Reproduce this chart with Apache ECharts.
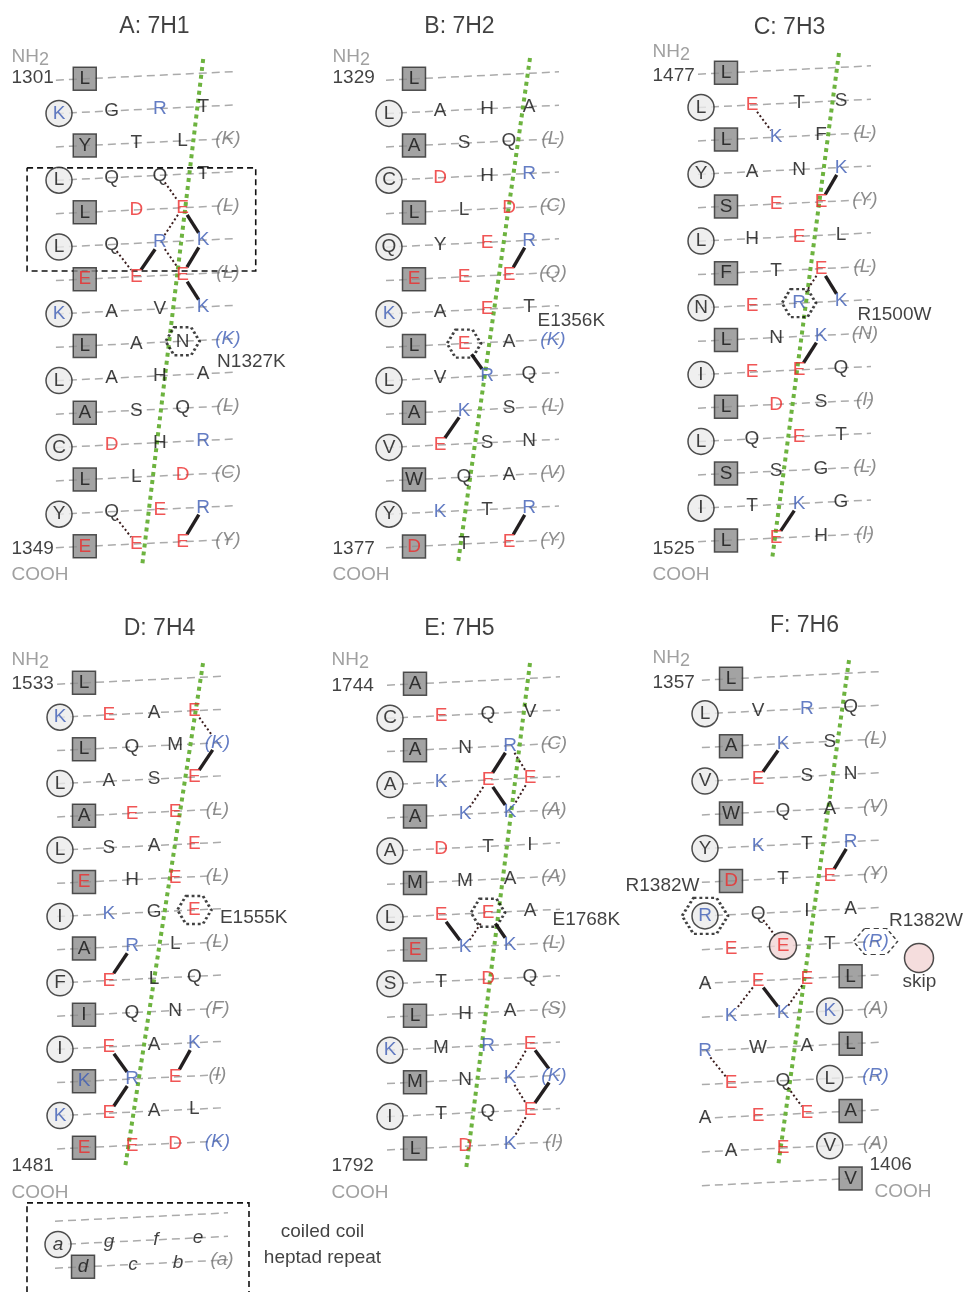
<!DOCTYPE html>
<html>
<head>
<meta charset="utf-8">
<style>
  html, body { margin: 0; padding: 0; width: 100%; height: 100%; overflow: hidden; background: #fff; }
</style>
<script src="https://cdn.jsdelivr.net/npm/echarts@6/dist/echarts.min.js"></script>
</head>
<body>
<div id="container" style="width:969px;height:1292px;"></div>
<script>
// heptad rows, 8 slots each: a d g c f b e (a)
// "oX" a-position (circle), "#X" d-position (square), "@X" skip residue,
// "(X)" repeated a residue (grey), "(X)+" repeated a residue coloured, "-" empty
const rows7H1 = [
  "- #L - - - - - -",
  "oK - G - R - T -",
  "- #Y - T - L - (K)",
  "oL - Q - Q - T -",
  "- #L - D - E - (L)",
  "oL - Q - R - K -",
  "- #E - E - E - (L)",
  "oK - A - V - K -",
  "- #L - A - N - (K)+",
  "oL - A - H - A -",
  "- #A - S - Q - (L)",
  "oC - D - H - R -",
  "- #L - L - D - (C)",
  "oY - Q - E - R -",
  "- #E - E - E - (Y)"
];
const rows7H2 = [
  "- #L - - - - - -",
  "oL - A - H - A -",
  "- #A - S - Q - (L)",
  "oC - D - H - R -",
  "- #L - L - D - (C)",
  "oQ - Y - E - R -",
  "- #E - E - E - (Q)",
  "oK - A - E - T -",
  "- #L - E - A - (K)+",
  "oL - V - R - Q -",
  "- #A - K - S - (L)",
  "oV - E - S - N -",
  "- #W - Q - A - (V)",
  "oY - K - T - R -",
  "- #D - T - E - (Y)"
];
const rows7H3 = [
  "- #L - - - - - -",
  "oL - E - T - S -",
  "- #L - K - F - (L)",
  "oY - A - N - K -",
  "- #S - E - E - (Y)",
  "oL - H - E - L -",
  "- #F - T - E - (L)",
  "oN - E - R - K -",
  "- #L - N - K - (N)",
  "oI - E - E - Q -",
  "- #L - D - S - (I)",
  "oL - Q - E - T -",
  "- #S - S - G - (L)",
  "oI - T - K - G -",
  "- #L - E - H - (I)"
];
const rows7H4 = [
  "- #L - - - - - -",
  "oK - E - A - E -",
  "- #L - Q - M - (K)+",
  "oL - A - S - E -",
  "- #A - E - E - (L)",
  "oL - S - A - E -",
  "- #E - H - E - (L)",
  "oI - K - G - E -",
  "- #A - R - L - (L)",
  "oF - E - L - Q -",
  "- #I - Q - N - (F)",
  "oI - E - A - K -",
  "- #K - R - E - (I)",
  "oK - E - A - L -",
  "- #E - E - D - (K)+"
];
const rows7H5 = [
  "- #A - - - - - -",
  "oC - E - Q - V -",
  "- #A - N - R - (C)",
  "oA - K - E - E -",
  "- #A - K - K - (A)",
  "oA - D - T - I -",
  "- #M - M - A - (A)",
  "oL - E - E - A -",
  "- #E - K - K - (L)",
  "oS - T - D - Q -",
  "- #L - H - A - (S)",
  "oK - M - R - E -",
  "- #M - N - K - (K)+",
  "oI - T - Q - E -",
  "- #L - D - K - (I)"
];
const rows7H6 = [
  "- #L - - - - - -",
  "oL - V - R - Q -",
  "- #A - K - S - (L)",
  "oV - E - S - N -",
  "- #W - Q - A - (V)",
  "oY - K - T - R -",
  "- #D - T - E - (Y)",
  "oR - Q - I - A -",
  "- E - @E - T - (R)+",
  "A - E - E - #L -",
  "- K - K - oK - (A)",
  "R - W - A - #L -",
  "- E - Q - oL - (R)+",
  "A - E - E - #A -",
  "- A - E - oV - (A)",
  "- - - - - - #V -"
];
const rowsLegend = [
  "- - - - - - - -",
  "oa - g - f - e -",
  "- #d - c - b - (a)"
];

// pairs [row1, col1, row2, col2, kind]  t = salt bridge, d = dotted contact
const bonds7H1 = [[3,4,4,5,'d'],[4,5,5,4,'d'],[4,5,5,6,'t'],[5,2,6,3,'d'],[6,3,5,4,'t'],[5,4,6,5,'d'],[5,6,6,5,'t'],[6,5,7,6,'t'],[13,2,14,3,'d'],[13,6,14,5,'t']];
const bonds7H2 = [[5,6,6,5,'t'],[8,3,9,4,'t'],[10,3,11,2,'t'],[13,6,14,5,'t']];
const bonds7H3 = [[1,2,2,3,'d'],[3,6,4,5,'t'],[6,5,7,6,'t'],[6,5,7,4,'d'],[8,5,9,4,'t'],[13,4,14,3,'t']];
const bonds7H4 = [[1,6,2,7,'d'],[2,7,3,6,'t'],[8,3,9,2,'t'],[11,2,12,3,'t'],[11,6,12,5,'t'],[12,3,13,2,'t']];
const bonds7H5 = [[2,5,3,4,'t'],[2,5,3,6,'d'],[3,4,4,3,'d'],[3,4,4,5,'t'],[3,6,4,5,'d'],[7,2,8,3,'t'],[7,4,8,3,'d'],[7,4,8,5,'t'],[11,6,12,5,'d'],[11,6,12,7,'t'],[12,5,13,6,'d'],[12,7,13,6,'t'],[13,6,14,5,'d']];
const bonds7H6 = [[2,3,3,2,'t'],[5,6,6,5,'t'],[7,2,8,3,'d'],[9,2,10,1,'d'],[9,2,10,3,'t'],[9,4,10,3,'d'],[11,0,12,1,'d'],[12,3,13,4,'d']];

// mutations [row, col, name]
const muts7H1 = [[8,5,'N1327K']];
const muts7H2 = [[8,3,'E1356K']];
const muts7H3 = [[7,4,'R1500W']];
const muts7H4 = [[7,6,'E1555K']];
const muts7H5 = [[7,4,'E1768K']];
const muts7H6 = [[7,0,'R1382W'],[8,7,'R1382W']];

// helix interface axis, [heptad x, row] at top and bottom
const axis7H1 = [[140,-0.63],[80.6,14.58]];
const axis7H2 = [[141,-0.66],[69,14.46]];
const axis7H3 = [[138,-0.63],[71,14.55]];
const axis7H4 = [[149,-0.63],[67.7,14.58]];
const axis7H5 = [[140,-0.66],[76,14.61]];
const axis7H6 = [[138.5,-0.59],[70.2,14.45]];

const titles = ['A: 7H1','B: 7H2','C: 7H3','D: 7H4','E: 7H5','F: 7H6'];
const startNums = ['1301','1329','1477','1533','1744','1357'];
const endNums = ['1349','1377','1525','1481','1792','1406'];

// ---- layout & style ----
const FONT = '"Liberation Sans", Arial, Helvetica, sans-serif';
const RED = '#ec2a2b', BLUE = '#3d5db5', GREY = '#707070', INK = '#111';
const colX = [0, 25, 51, 75, 98, 120, 140, 164];
const TILT = 0.048;
const HEX = 'path://M25,0L75,0L100,50L75,100L25,100L0,50Z';

const layout = [
  {x0:59,  y0:80,  sx:1.03, rowH:33.4, title:[96,-53],  nh2:[-47,-23], start:[-47,-2], end:[-47,469], cooh:[-47,495], mut:[[35,21]]},
  {x0:389, y0:80,  sx:1.0,  rowH:33.4, title:[71,-53],  nh2:[-56,-23], start:[-56,-2], end:[-56,469], cooh:[-56,495], mut:[[74,-22]]},
  {x0:701, y0:74,  sx:1.0,  rowH:33.4, title:[89,-46],  nh2:[-48,-22], start:[-48,2],  end:[-48,475], cooh:[-48,501], mut:[[59,12]]},
  {x0:60,  y0:684, sx:0.96, rowH:33.2, title:[100,-55], nh2:[-48,-24], start:[-48,0],  end:[-48,482], cooh:[-48,509], mut:[[26,8]]},
  {x0:390, y0:685, sx:1.0,  rowH:33.2, title:[70,-56],  nh2:[-58,-25], start:[-58,1],  end:[-58,481], cooh:[-58,508], mut:[[65,8]]},
  {x0:705, y0:680, sx:1.04, rowH:33.7, title:[100,-54], nh2:[-52,-22], start:[-52,3],  end:[165,485], cooh:[170,512], mut:[[-5,-30,'right'],[14,-20]], lastEnd:140}
];
const legendLayout = {x0:58, y0:1221, sx:1.0, rowH:23.5};

const panels = [
  {rows:rows7H1, bonds:bonds7H1, muts:muts7H1, axis:axis7H1, box:[[-31,2.63],[191,5.72]]},
  {rows:rows7H2, bonds:bonds7H2, muts:muts7H2, axis:axis7H2},
  {rows:rows7H3, bonds:bonds7H3, muts:muts7H3, axis:axis7H3},
  {rows:rows7H4, bonds:bonds7H4, muts:muts7H4, axis:axis7H4},
  {rows:rows7H5, bonds:bonds7H5, muts:muts7H5, axis:axis7H5},
  {rows:rows7H6, bonds:bonds7H6, muts:muts7H6, axis:axis7H6}
];

function parseSlot(s) {
  if (!s || s === '-') return null;
  let shape = 'text', txt = s, plus = false;
  if (s[0] === 'o') { shape = 'circle'; txt = s.slice(1); }
  else if (s[0] === '#') { shape = 'square'; txt = s.slice(1); }
  else if (s[0] === '@') { shape = 'skip'; txt = s.slice(1); }
  if (txt.endsWith('+')) { plus = true; txt = txt.slice(0, -1); }
  const paren = txt[0] === '(';
  const letter = paren ? txt[1] : txt;
  let color = INK;
  if ('DE'.includes(letter)) color = RED;
  if ('KR'.includes(letter)) color = BLUE;
  if (paren && !plus) color = GREY;
  return {shape, txt, letter, paren, color};
}

function pos(L, r, x) {
  return [x, r - TILT * x * L.sx / L.rowH];
}

const option = {
  animation: false,
  backgroundColor: '#fff',
  grid: [], xAxis: [], yAxis: [], series: []
};

// grids are kept inside the 969x1292 canvas; marks outside are not clipped
function addGrid(L, xMin, xMax, yMin, yMax) {
  option.grid.push({
    left: L.x0 + xMin * L.sx, top: L.y0 + yMin * L.rowH,
    width: (xMax - xMin) * L.sx, height: (yMax - yMin) * L.rowH
  });
  option.xAxis.push({type: 'value', min: xMin, max: xMax, show: false, gridIndex: option.grid.length - 1});
  option.yAxis.push({type: 'value', min: yMin, max: yMax, inverse: true, show: false, gridIndex: option.grid.length - 1});
  return option.grid.length - 1;
}

function textItem(L, dx, dy, text, opts) {
  return {
    value: [dx / L.sx, dy / L.rowH],
    symbolSize: 1,
    itemStyle: {color: 'rgba(0,0,0,0)'},
    label: Object.assign({
      show: true, position: [0, 0], formatter: text, color: INK, fontSize: 19,
      fontFamily: FONT, align: 'left', verticalAlign: 'middle'
    }, opts || {})
  };
}

function drawHeptads(gi, L, P, italic) {
  const rowLines = [], shapes = [], letters = [], hexes = [], thick = [], dotted = [];
  const grid = [];
  P.rows.forEach((row, r) => {
    const slots = row.trim().split(/\s+/).map(parseSlot);
    grid.push(slots);
    const end = (L.lastEnd && r === P.rows.length - 1) ? L.lastEnd : 170;
    rowLines.push({coords: [pos(L, r, -3), pos(L, r, end)]});
    slots.forEach((s, c) => {
      if (!s) return;
      const lab = {
        show: true, position: 'inside', formatter: s.txt, color: s.color,
        fontSize: 19, fontFamily: FONT, fontStyle: (italic || s.paren) ? 'italic' : 'normal'
      };
      const p = pos(L, r, colX[c]);
      if (s.shape === 'circle') {
        shapes.push({value: p, symbol: 'circle', symbolSize: 26,
          itemStyle: {color: '#ebebeb', borderColor: '#222', borderWidth: 1.5}, label: lab});
      } else if (s.shape === 'square') {
        shapes.push({value: p, symbol: 'rect', symbolSize: 23,
          itemStyle: {color: '#8c8c8c', borderColor: '#2a2a2a', borderWidth: 1.5}, label: lab});
      } else if (s.shape === 'skip') {
        shapes.push({value: p, symbol: 'circle', symbolSize: 27,
          itemStyle: {color: '#f3d5d5', borderColor: '#222', borderWidth: 1.5}, label: lab});
      } else {
        letters.push({value: p, symbolSize: 1, itemStyle: {color: 'rgba(0,0,0,0)'}, label: lab});
      }
    });
  });

  const mutSet = {};
  (P.muts || []).forEach((m, i) => {
    const [r, c, name] = m;
    mutSet[r + ',' + c] = true;
    const s = grid[r][c];
    const p = pos(L, r, colX[c]);
    let size = [34, 28], st = {color: 'rgba(0,0,0,0)', borderColor: '#111', borderWidth: 2.6, borderType: [2.6, 2.6]};
    if (s.shape === 'circle') size = [46, 36];
    if (s.paren) { size = [44, 26]; st = {color: 'rgba(0,0,0,0)', borderColor: '#111', borderWidth: 1.3, borderType: [4, 3]}; }
    hexes.push({value: p, symbol: HEX, symbolSize: size, itemStyle: st});
    const off = L.mut[i];
    letters.push({
      value: [p[0] + off[0] / L.sx, p[1] + off[1] / L.rowH], symbolSize: 1,
      itemStyle: {color: 'rgba(0,0,0,0)'},
      label: {show: true, position: [0, 0], formatter: name, color: INK, fontSize: 19,
        fontFamily: FONT, align: off[2] || 'left', verticalAlign: 'middle'}
    });
  });

  (P.bonds || []).forEach(b => {
    const [r1, c1, r2, c2, kind] = b;
    const a = pos(L, r1, colX[c1]), z = pos(L, r2, colX[c2]);
    const big1 = mutSet[r1 + ',' + c1] || ['circle', 'skip'].includes(grid[r1][c1].shape);
    const big2 = mutSet[r2 + ',' + c2] || ['circle', 'skip'].includes(grid[r2][c2].shape);
    const dxp = (z[0] - a[0]) * L.sx, dyp = (z[1] - a[1]) * L.rowH;
    const len = Math.hypot(dxp, dyp);
    const s1 = (big1 ? 13 : 8.5) / len, s2 = (big2 ? 13 : 8.5) / len;
    const seg = {coords: [
      [a[0] + (z[0] - a[0]) * s1, a[1] + (z[1] - a[1]) * s1],
      [z[0] - (z[0] - a[0]) * s2, z[1] - (z[1] - a[1]) * s2]
    ]};
    (kind === 't' ? thick : dotted).push(seg);
  });

  const ax = {xAxisIndex: gi, yAxisIndex: gi, silent: true, clip: false};
  option.series.push(Object.assign({type: 'lines', coordinateSystem: 'cartesian2d', z: 1, data: rowLines,
    lineStyle: {color: '#ababab', width: 1.5, type: [8, 5], opacity: 1}}, ax));
  if (P.axis) {
    option.series.push(Object.assign({type: 'lines', coordinateSystem: 'cartesian2d', z: 2,
      data: [{coords: P.axis}], lineStyle: {color: '#6db33f', width: 4, type: [4, 4], opacity: 1}}, ax));
  }
  if (P.box) {
    const [[x1, y1], [x2, y2]] = P.box;
    option.series.push(Object.assign({type: 'lines', coordinateSystem: 'cartesian2d', polyline: true, z: 2,
      data: [{coords: [[x1, y1], [x2, y1], [x2, y2], [x1, y2], [x1, y1]]}],
      lineStyle: {color: '#111', width: 1.6, type: [6, 4], opacity: 1}}, ax));
  }
  option.series.push(Object.assign({type: 'lines', coordinateSystem: 'cartesian2d', z: 3, data: thick,
    lineStyle: {color: '#231f20', width: 3.4, opacity: 1}}, ax));
  option.series.push(Object.assign({type: 'lines', coordinateSystem: 'cartesian2d', z: 3, data: dotted,
    lineStyle: {color: '#3b1d1d', width: 2, type: [2, 2.5], opacity: 1}}, ax));
  option.series.push(Object.assign({type: 'scatter', z: 4, data: shapes}, ax));
  option.series.push(Object.assign({type: 'scatter', z: 5, data: letters}, ax));
  option.series.push(Object.assign({type: 'scatter', z: 6, data: hexes}, ax));
}

panels.forEach((P, i) => {
  const L = layout[i];
  const gi = addGrid(L, -55, 250, -1.9, 16.6);
  drawHeptads(gi, L, P, false);
  const grey = {color: '#888'};
  const notes = [
    textItem(L, L.title[0], L.title[1], titles[i], {align: 'center', fontSize: 23}),
    textItem(L, L.nh2[0], L.nh2[1], '{n|NH}{s|2}', {rich: {
      n: {fontSize: 19, color: '#888', fontFamily: FONT},
      s: {fontSize: 18, color: '#888', fontFamily: FONT, padding: [8, 0, 0, 0]}
    }}),
    textItem(L, L.start[0], L.start[1], startNums[i]),
    textItem(L, L.end[0], L.end[1], endNums[i]),
    textItem(L, L.cooh[0], L.cooh[1], 'COOH', grey)
  ];
  if (i === 5) {
    notes.push({value: [214 / L.sx, 278 / L.rowH], symbol: 'circle', symbolSize: 29,
      itemStyle: {color: '#f3d5d5', borderColor: '#222', borderWidth: 1.5}});
    notes.push(textItem(L, 215, 302, 'skip', {align: 'center'}));
  }
  option.series.push({type: 'scatter', xAxisIndex: gi, yAxisIndex: gi, z: 6, silent: true, clip: false, data: notes});
});

// legend panel
(function () {
  const L = legendLayout;
  const gi = addGrid(L, -50, 300, -1.5, 3.0);
  drawHeptads(gi, L, {rows: rowsLegend, box: [[-31, -0.77], [191, 3.6]]}, true);
  option.series.push({type: 'scatter', xAxisIndex: gi, yAxisIndex: gi, z: 6, silent: true, clip: false, data: [
    textItem(L, 265, 11, 'coiled coil', {align: 'center'}),
    textItem(L, 265, 37, 'heptad repeat', {align: 'center'})
  ]});
})();

const chart = echarts.init(document.getElementById('container'), null, {renderer: 'canvas'});
chart.setOption(option);
</script>
</body>
</html>
